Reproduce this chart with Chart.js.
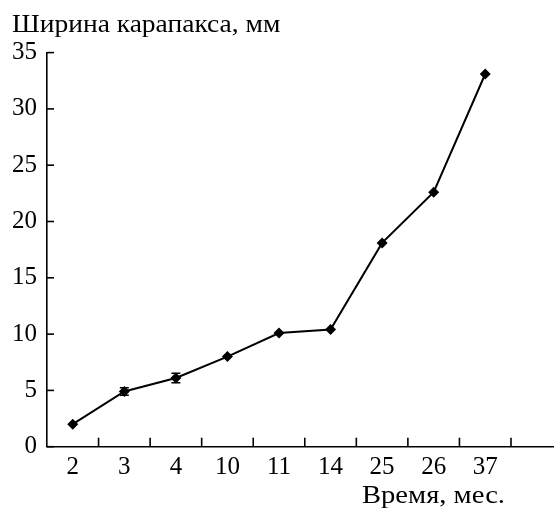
<!DOCTYPE html>
<html>
<head>
<meta charset="utf-8">
<script src="https://cdn.jsdelivr.net/npm/chart.js@4.4.1/dist/chart.umd.min.js"></script>
<style>
  html, body { margin: 0; padding: 0; background: #fff; }
  #wrap { width: 555px; height: 508px; }
</style>
</head>
<body>
<div id="wrap"><canvas id="c" width="555" height="508"></canvas></div>
<script>
// Age of the animals, months (category axis)
const months = ['2', '3', '4', '10', '11', '14', '25', '26', '37'];
// Mean carapace width, mm
const carapaceWidth = [2.0, 4.9, 6.1, 8.0, 10.1, 10.4, 18.1, 22.6, 33.1];
// Half-length of the error bar, mm (0 = no bar)
const widthError = [0, 0.33, 0.42, 0, 0, 0, 0, 0, 0];
// Y axis tick range
const yMin = 0, yMax = 35, yStep = 5;

const yTitle = 'Ширина карапакса, мм';
const xTitle = 'Время, мес.';

const FONT = '"Liberation Serif", "Times New Roman", serif';

// Draw a caption slightly widened, anchored by its left or right edge
function caption(ctx, text, x, y, align, stretch) {
  ctx.save();
  ctx.font = '25px ' + FONT;
  ctx.textBaseline = 'alphabetic';
  ctx.textAlign = 'left';
  const w = ctx.measureText(text).width * stretch;
  const left = align === 'right' ? x - w : x;
  ctx.translate(left, y);
  ctx.scale(stretch, 1);
  ctx.fillText(text, 0, 0);
  ctx.restore();
}

// Inward tick marks, extended x axis line, error bars and axis captions
const decor = {
  id: 'decor',
  afterDatasetsDraw(chart) {
    const ctx = chart.ctx;
    const x = chart.scales.x, y = chart.scales.y;
    const area = chart.chartArea;
    ctx.save();
    ctx.strokeStyle = '#000';
    ctx.lineWidth = 1.6;

    // x axis line runs a little past the last category
    ctx.beginPath();
    ctx.moveTo(area.left - 0.8, area.bottom);
    ctx.lineTo(554, area.bottom);
    ctx.stroke();

    // y ticks point into the plot
    y.ticks.forEach((t, i) => {
      const py = y.getPixelForTick(i);
      ctx.beginPath();
      ctx.moveTo(area.left, py);
      ctx.lineTo(area.left + 7, py);
      ctx.stroke();
    });

    // x ticks sit on category boundaries and point upward
    const cat = x.width / months.length;
    months.forEach((m, i) => {
      const px = x.getPixelForTick(i) + cat / 2;
      ctx.beginPath();
      ctx.moveTo(px, area.bottom);
      ctx.lineTo(px, area.bottom - 9);
      ctx.stroke();
    });

    // error bars
    ctx.lineWidth = 1.5;
    carapaceWidth.forEach((v, i) => {
      const e = widthError[i];
      if (!e) return;
      const px = x.getPixelForValue(i);
      const top = y.getPixelForValue(v + e);
      const bot = y.getPixelForValue(v - e);
      ctx.beginPath();
      ctx.moveTo(px, top); ctx.lineTo(px, bot);
      ctx.moveTo(px - 4.5, top); ctx.lineTo(px + 4.5, top);
      ctx.moveTo(px - 4.5, bot); ctx.lineTo(px + 4.5, bot);
      ctx.stroke();
    });
    ctx.restore();

    // axis captions
    ctx.fillStyle = '#000';
    caption(ctx, yTitle, 12, 32, 'left', 1.10);
    caption(ctx, xTitle, 505, 503, 'right', 1.145);
  }
};

new Chart(document.getElementById('c'), {
  type: 'line',
  data: {
    labels: months,
    datasets: [{
      data: carapaceWidth,
      borderColor: '#000',
      backgroundColor: '#000',
      borderWidth: 2,
      pointStyle: 'rectRot',
      pointRadius: 5.5,
      pointBorderWidth: 0,
      pointBackgroundColor: '#000',
      tension: 0,
      fill: false
    }]
  },
  options: {
    responsive: false,
    animation: false,
    devicePixelRatio: 1,
    layout: { padding: { left: 10, top: 52.6, right: 44, bottom: 31 } },
    plugins: { legend: { display: false }, tooltip: { enabled: false }, title: { display: false } },
    scales: {
      x: {
        type: 'category',
        offset: true,
        grid: { display: true, offset: true, drawOnChartArea: false, drawTicks: false },
        border: { display: false },
        ticks: { color: '#000', font: { family: FONT, size: 25 }, padding: 6, maxRotation: 0, autoSkip: false },
        afterFit(s) { s.height = 30.3; }
      },
      y: {
        min: yMin, max: yMax,
        grid: { display: true, drawOnChartArea: false, drawTicks: false },
        border: { display: true, color: '#000', width: 1.6 },
        ticks: { stepSize: yStep, color: '#000', font: { family: FONT, size: 25 }, padding: 10 },
        afterFit(s) { s.width = 37; }
      }
    }
  },
  plugins: [decor]
});
</script>
</body>
</html>
